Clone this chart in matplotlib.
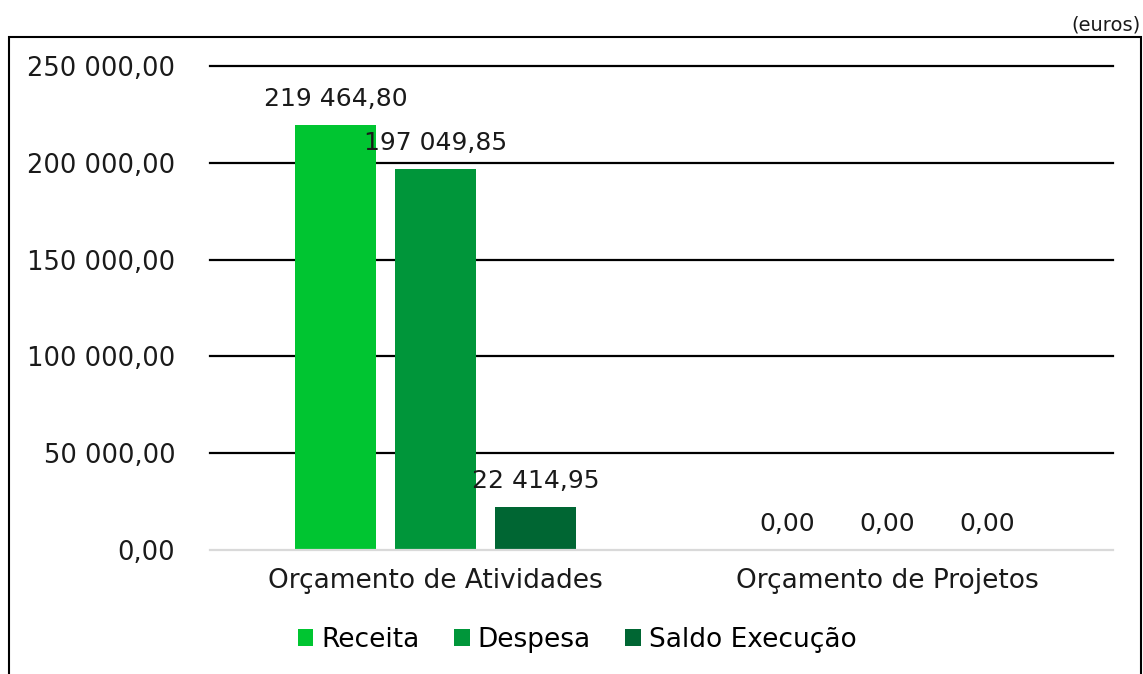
import matplotlib
matplotlib.use("Agg")
import matplotlib.pyplot as plt
import numpy as np
from matplotlib.patches import Rectangle

# data
categories = ["Orçamento de Atividades", "Orçamento de Projetos"]
series = ["Receita", "Despesa", "Saldo Execução"]
receita = [219464.80, 0.00]
despesa = [197049.85, 0.00]
saldo = [22414.95, 0.00]
yticks = [0, 50000, 100000, 150000, 200000, 250000]

colors = ["#00C531", "#00963A", "#006633"]
plt.rcParams["font.family"] = ["DejaVu Sans"]


def fmt(v):
    s = f"{v:,.2f}"
    return s.replace(",", " ").replace(".", ",")


fig = plt.figure(figsize=(11.43, 6.74), dpi=100)
ax = fig.add_axes([210 / 1143, 1 - 550 / 674, 903 / 1143, 484 / 674])

x = np.arange(len(categories))
width = 0.18
step = 0.2215
for i, (name, vals) in enumerate(zip(series, [receita, despesa, saldo])):
    pos = x + (i - 1) * step
    ax.bar(pos, vals, width, color=colors[i], label=name, zorder=3)
    for p, v in zip(pos, vals):
        ax.annotate(fmt(v), (p, v), xytext=(0, 10), textcoords="offset points",
                    ha="center", va="bottom", fontsize=18, color="#1a1a1a")

ax.set_xlim(-0.5, 1.5)
ax.set_ylim(0, 250000)
for t in yticks[1:]:
    ax.axhline(t, color="black", lw=1.6, zorder=1, clip_on=False)
ax.axhline(0, color="#d9d9d9", lw=1.6, zorder=4, clip_on=False)

ax.set_yticks(yticks)
ax.set_yticklabels([fmt(t) for t in yticks], fontsize=18.5, color="#1a1a1a")
ax.set_xticks(x)
ax.set_xticklabels(categories, fontsize=19, color="#1a1a1a")
ax.tick_params(axis="y", length=0, pad=25)
ax.tick_params(axis="x", length=0, pad=13)
for s in ax.spines.values():
    s.set_visible(False)

fig.legend(loc="center", bbox_to_anchor=(577 / 1143, 1 - 640 / 674), ncol=3,
           frameon=False, fontsize=19, handlelength=0.6, handleheight=0.6,
           handletextpad=0.3, columnspacing=1.3)

# outer frame
fig.patches.append(Rectangle((9 / 1143, -0.05), 1132 / 1143, 1.05 - 37 / 674,
                             transform=fig.transFigure, fill=False,
                             edgecolor="black", lw=1.5))
fig.text(1141 / 1143, 1 - 25 / 674, "(euros)", ha="right", va="center",
         fontsize=14, color="#1a1a1a")

fig.savefig("out.png", dpi=100)
